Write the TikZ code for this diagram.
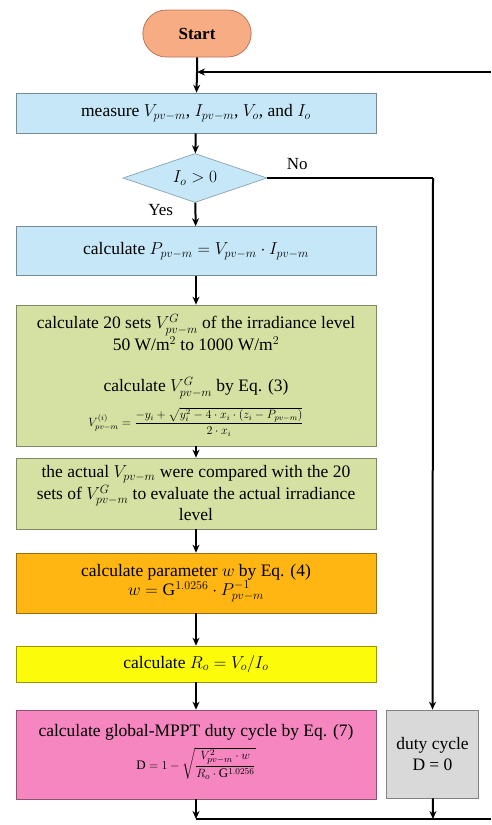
\documentclass[tikz,border=0pt]{standalone}
\usepackage{amsmath,amssymb}
\usepackage{fontspec}
\setmainfont{Liberation Serif}
\usepackage{tikz}
\usetikzlibrary{arrows.meta,shapes.geometric,shapes.misc,positioning}
\definecolor{SalmonStart}{HTML}{F8AC84}
\definecolor{SalmonEdge}{HTML}{B8785C}
\definecolor{SkyFill}{HTML}{C6E7F7}
\definecolor{SkyEdge}{HTML}{8AA3B0}
\definecolor{LeafFill}{HTML}{D5E1A3}
\definecolor{LeafEdge}{HTML}{8D9878}
\definecolor{AmberFill}{HTML}{FFB612}
\definecolor{LemonFill}{HTML}{FBFB0A}
\definecolor{PinkFill}{HTML}{F586C0}
\definecolor{GreyFill}{HTML}{D9D9D9}
\tikzset{
  procbox/.style={draw=#1!60!black, line width=0.7pt, rectangle, align=flush center,
    minimum width=360pt, text width=356pt, inner sep=2pt,
    font=\fontsize{17.5}{21.5}\selectfont},
  flow/.style={line width=2pt, -{Stealth[length=8pt,width=7pt]}},
  plain/.style={line width=2pt}
}

\begin{document}
\begin{tikzpicture}[x=1pt, y=-1pt]
    \useasboundingbox (0,0) rectangle (491,825);
    % terminal and input
    \node[draw=SalmonEdge, fill=SalmonStart, rounded rectangle, line width=0.8pt,
      minimum width=115pt, minimum height=47pt, font=\fontsize{17}{19}\selectfont\bfseries] (start) at (197,33.5) {Start};
    \node[procbox=SkyFill, fill=SkyFill, minimum height=40pt] (measure) at (196,113)
      {measure $V_{pv-m}$, $I_{pv-m}$, $V_o$, and $I_o$};
    \node[draw=SkyEdge, fill=SkyFill, diamond, line width=0.7pt, aspect=2.9, inner sep=0pt,
      minimum width=144pt, minimum height=49pt, font=\fontsize{17}{19}\selectfont] (check) at (195,178) {$I_o > 0$};
    \node[procbox=SkyFill, fill=SkyFill, minimum height=49pt] (power) at (196,251)
      {calculate $P_{pv-m} = V_{pv-m}\cdot I_{pv-m}$};
    % irradiance estimate
    \node[procbox=LeafFill, fill=LeafFill, minimum height=141pt] (sets) at (196,375.5)
      {calculate 20 sets $V_{pv-m}^{G}$ of the irradiance level\\
       50 W/m$^2$ to 1000 W/m$^2$\\[20pt]
       calculate $V_{pv-m}^{G}$ by Eq. (3)\\[8pt]
       {\fontsize{11.5}{13}\selectfont$V_{pv-m}^{(i)} = \dfrac{-y_i + \sqrt{y_i^2 - 4\cdot x_i\cdot\left(z_i - P_{pv-m}\right)}}{2\cdot x_i}$}};
    \node[procbox=LeafFill, fill=LeafFill, minimum height=71pt] (compare) at (196,493.5)
      {the actual $V_{pv-m}$ were compared with the 20\\
       sets of $V_{pv-m}^{G}$ to evaluate the actual irradiance\\
       level};
    \node[procbox=AmberFill, fill=AmberFill, minimum height=60pt] (param) at (196,583)
      {calculate parameter $w$ by Eq. (4)\\[-2pt]
       $w = \mathrm{G}^{1.0256}\cdot P_{pv-m}^{-1}$};
    \node[procbox=LemonFill, fill=LemonFill, minimum height=36pt] (load) at (196,664)
      {calculate $R_o = V_o / I_o$};
    \node[procbox=PinkFill, fill=PinkFill, minimum height=89pt] (duty) at (196,754.5)
      {calculate global-MPPT duty cycle by Eq. (7)\\[7pt]
       {\fontsize{13}{14}\selectfont$\mathrm{D} = 1 - \sqrt{\dfrac{V_{pv-m}^{2}\cdot w}{R_o\cdot \mathrm{G}^{1.0256}}}$}\\[-6pt]\mbox{}};
    \node[procbox=GreyFill, fill=GreyFill, minimum width=91pt, text width=88pt, minimum height=88pt] (zero) at (432.5,754)
      {duty cycle\\D = 0};
    % loop points
    \coordinate (merge) at (197,72);
    \coordinate (topR) at (491,72);
    \coordinate (turn) at (433,178);
    \coordinate (joinL) at (196,819);
    \coordinate (joinR) at (433,819);
    \coordinate (botR) at (491,819);
    % connectors
    \draw[plain] (start) -- (merge);
    \draw[flow] (topR) -- (merge);
    \draw[flow] (merge) -- (measure);
    \draw[flow] (measure) -- (check);
    \draw[flow] (check) -- node[left, font=\fontsize{17}{19}\selectfont, pos=0.3, xshift=-18pt] {Yes} (power);
    \draw[plain] (check.east) -- node[above, font=\fontsize{17}{19}\selectfont, pos=0.18, yshift=4pt] {No} (turn);
    \draw[flow] (turn) -- (zero);
    \draw[flow] (power) -- (sets);
    \draw[flow] (sets) -- (compare);
    \draw[flow] (compare) -- (param);
    \draw[flow] (param) -- (load);
    \draw[flow] (load) -- (duty);
    \draw[flow] (duty) -- (joinL);
    \draw[flow] (zero) -- (joinR);
    \draw[plain] (joinL) -- (botR);
  \end{tikzpicture}
\end{document}
